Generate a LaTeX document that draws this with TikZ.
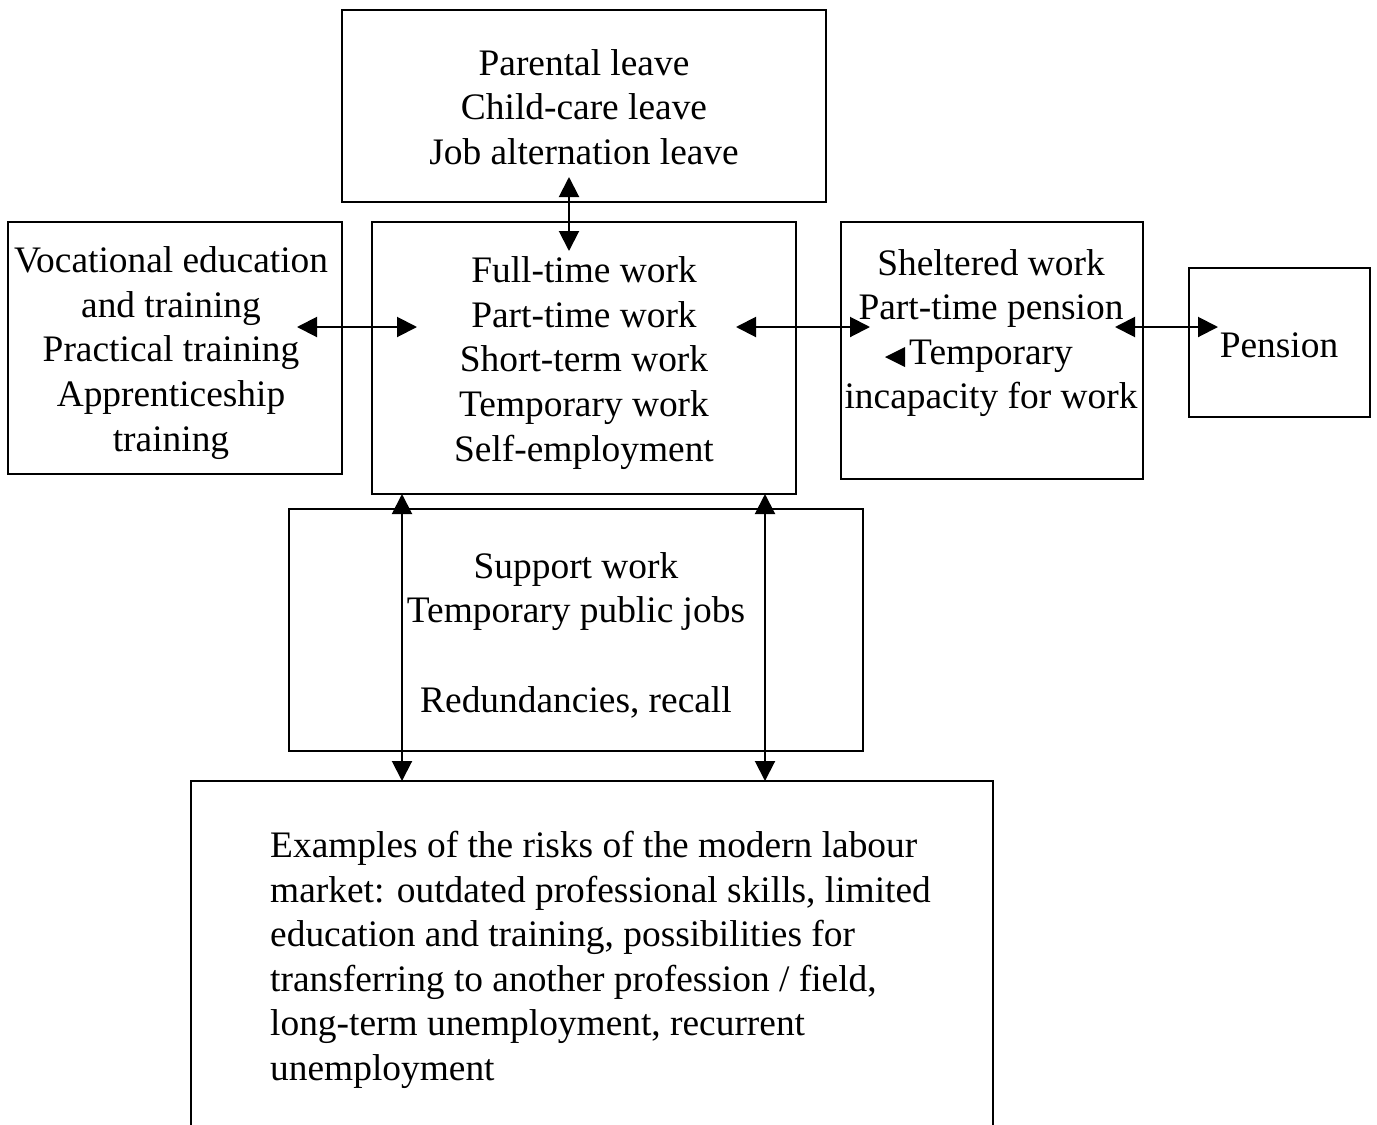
\documentclass[tikz,border=0pt]{standalone}
\usepackage{fontspec}
\setmainfont{Liberation Serif}
\usetikzlibrary{arrows.meta}
\begin{document}
\begin{tikzpicture}[x=1pt,y=-1pt,
  box/.style={draw, line width=2pt, inner sep=0pt},
  txt/.style={font=\fontsize{37.4}{44.6}\selectfont, align=center, inner sep=0pt},
  link/.style={line width=2pt, {Triangle[length=20pt,width=20pt]}-{Triangle[length=20pt,width=20pt]}}]
\useasboundingbox (0,0) rectangle (1377,1125);
\clip (0,0) rectangle (1377,1125);
% boxes
\node[box, minimum width=484pt, minimum height=192pt] (leave) at (584,106) {};
\node[box, minimum width=334pt, minimum height=252pt] (voc) at (175,348) {};
\node[box, minimum width=424pt, minimum height=272pt] (work) at (584,358) {};
\node[box, minimum width=302pt, minimum height=257pt] (shel) at (992,350.5) {};
\node[box, minimum width=181pt, minimum height=149pt] (pens) at (1279.5,342.5) {};
\node[box, minimum width=574pt, minimum height=242pt] (supp) at (576,630) {};
\node[box, minimum width=802pt, minimum height=400pt] (risk) at (592,981) {};
% texts
\node[txt] (leavet) at (584,107) {Parental leave\\Child-care leave\\Job alternation leave};
\node[txt] (voct) at (171,353) {Vocational education\\and training\\Practical training\\Apprenticeship\\training};
\node[txt] (workt) at (584,363) {Full-time work\\Part-time work\\Short-term work\\Temporary work\\Self-employment};
\node[txt] (shelt) at (991,333) {Sheltered work\\Part-time pension\\Temporary\\incapacity for work};
\node[txt] (penst) at (1279,345) {Pension};
\node[txt] (suppt) at (576,635) {Support work\\Temporary public jobs\\[44.6pt]Redundancies, recall};
\node[txt, align=left, anchor=north west] (riskt) at (270,831) {Examples of the risks of the modern labour\\market: outdated professional skills, limited\\education and training, possibilities for\\transferring to another profession / field,\\long-term unemployment, recurrent\\unemployment};
% connector end points
\coordinate (a1) at (297,327); \coordinate (a2) at (417,327);
\coordinate (b1) at (736,327); \coordinate (b2) at (870,327);
\coordinate (c1) at (1115,327); \coordinate (c2) at (1218,327);
\coordinate (d1) at (569,177); \coordinate (d2) at (569,251);
\coordinate (e1) at (402,494); \coordinate (e2) at (402,781);
\coordinate (f1) at (765,494); \coordinate (f2) at (765,781);
\draw[link] (a1) -- (a2);
\draw[link] (b1) -- (b2);
\draw[link] (c1) -- (c2);
\draw[link] (d1) -- (d2);
\draw[link] (e1) -- (e2);
\draw[link] (f1) -- (f2);
% stray arrowhead
\coordinate (g) at (885,357);
\fill (g) -- ++(20,-10) -- ++(0,20) -- cycle;
\end{tikzpicture}
\end{document}
